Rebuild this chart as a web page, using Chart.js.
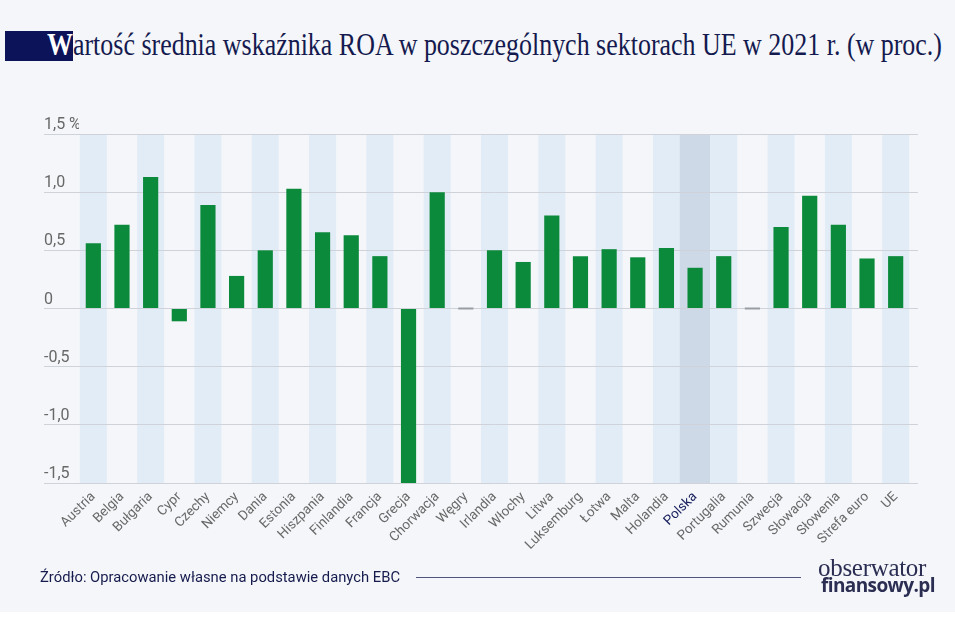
<!DOCTYPE html>
<html lang="pl">
<head>
<meta charset="utf-8">
<script src="https://cdn.jsdelivr.net/npm/chart.js@4.4.1/dist/chart.umd.min.js"></script>
<style>
  html, body { margin: 0; padding: 0; background: #ffffff; }
  #page { position: relative; width: 955px; height: 621px; overflow: hidden; background: #ffffff; }
  #panel { position: absolute; left: 0; top: 0; width: 955px; height: 612px; background: #f4f6f9; }
  #titleBox { position: absolute; left: 5px; top: 31px; width: 68px; height: 30px; background: #0c1358; }
  #title {
    position: absolute; left: 47px; top: 27px; white-space: nowrap;
    font-family: "Liberation Serif", "DejaVu Serif", serif; font-size: 31px; line-height: 36px;
    color: #141a4f; transform-origin: left top;
  }
  #title b { color: #ffffff; }
  #chartWrap { position: absolute; left: 0; top: 100px; width: 955px; height: 470px; }
  #source {
    position: absolute; left: 40px; top: 569px; white-space: nowrap;
    font-family: Roboto, "Liberation Sans", sans-serif; font-size: 14.5px; line-height: 18px;
    color: #161b4e; transform-origin: left top;
  }
  #rule { position: absolute; left: 416px; top: 577px; width: 385px; height: 0; border-top: 1.5px solid #50557e; }
  #logo1 {
    position: absolute; left: 818px; top: 555px; white-space: nowrap;
    font-family: "Liberation Serif", serif; font-size: 25px; line-height: 26px; color: #2b2e52;
    letter-spacing: -0.3px;
  }
  #logo2 {
    position: absolute; left: 821px; top: 575px; white-space: nowrap;
    font-family: "Open Sans", "Liberation Sans", sans-serif; font-weight: 700; font-size: 19px; line-height: 20px;
    color: #2b2e52; letter-spacing: -0.6px;
  }
</style>
</head>
<body>
<div id="page">
  <div id="panel"></div>
  <div id="titleBox"></div>
  <div id="title"><b>W</b>artość średnia wskaźnika ROA w poszczególnych sektorach UE w 2021 r. (w proc.)</div>
  <div id="chartWrap"><canvas id="roaChart"></canvas></div>
  <div id="source">Źródło: Opracowanie własne na podstawie danych EBC</div>
  <div id="rule"></div>
  <div id="logo1">obserwator</div>
  <div id="logo2">finansowy.pl</div>
</div>
<script>
const countries = [
  "Austria", "Belgia", "Bułgaria", "Cypr", "Czechy", "Niemcy", "Dania", "Estonia",
  "Hiszpania", "Finlandia", "Francja", "Grecja", "Chorwacja", "Węgry", "Irlandia",
  "Włochy", "Litwa", "Luksemburg", "Łotwa", "Malta", "Holandia", "Polska",
  "Portugalia", "Rumunia", "Szwecja", "Słowacja", "Słowenia", "Strefa euro", "UE"
];
const roaValues = [
  0.56, 0.72, 1.13, -0.11, 0.89, 0.28, 0.50, 1.03,
  0.655, 0.63, 0.45, -1.5, 1.00, 0.00, 0.50,
  0.40, 0.80, 0.45, 0.51, 0.44, 0.52, 0.35,
  0.45, 0.00, 0.70, 0.97, 0.72, 0.43, 0.45
];
const yTickValues = [-1.5, -1.0, -0.5, 0, 0.5, 1.0, 1.5];
const yTickLabels = ["-1,5", "-1,0", "-0,5", "0", "0,5", "1,0", "1,5 %"];
const highlighted = "Polska";

const green = "#0b8a3b";
const zeroGrey = "#9a9ea4";
const bandLight = "#e2ecf7";
const bandDark = "#cdd9e6";
const labelGrey = "#686868";
const navy = "#1b2160";

// fit the title and source line to the widths seen in the picture
function fitWidth(id, target) {
  const el = document.getElementById(id);
  const w = el.getBoundingClientRect().width;
  el.style.transform = "scaleX(" + (target / w) + ")";
}
fitWidth("title", 895);
fitWidth("source", 360);

// light columns behind every other country, darker one for Polska
const bandsPlugin = {
  id: "bands",
  beforeDraw(chart) {
    const ctx = chart.ctx;
    const x = chart.scales.x;
    const area = chart.chartArea;
    const step = x.getPixelForValue(1) - x.getPixelForValue(0);
    ctx.save();
    countries.forEach((c, i) => {
      const cx = x.getPixelForValue(i);
      if (c === highlighted) {
        ctx.fillStyle = bandDark;
        ctx.fillRect(cx - step / 2 - 1, area.top, step + 2, area.bottom - area.top);
      } else if (i % 2 === 0) {
        ctx.fillStyle = bandLight;
        ctx.fillRect(cx - step * 0.47, area.top, step * 0.94, area.bottom - area.top);
      }
    });
    ctx.restore();
  }
};

new Chart("roaChart", {
  type: "bar",
  data: {
    labels: countries,
    datasets: [
      {
        data: roaValues,
        backgroundColor: (ctx) => (roaValues[ctx.dataIndex] === 0 ? zeroGrey : green),
        categoryPercentage: 1,
        barPercentage: 0.53,
        minBarLength: 2,
      },
    ],
  },
  options: {
    responsive: true,
    maintainAspectRatio: false,
    animation: false,
    layout: { padding: { left: 44, right: 37, top: 34, bottom: 0 } },
    plugins: { legend: { display: false }, tooltip: { enabled: false } },
    scales: {
      x: {
        grid: { display: false, drawTicks: false },
        border: { display: false },
        ticks: {
          autoSkip: false,
          minRotation: 45,
          maxRotation: 45,
          padding: 6,
          color: (ctx) => (countries[ctx.index] === highlighted ? navy : labelGrey),
          font: { family: "Roboto", size: 13.5 },
        },
        afterFit(scale) { scale.height = 87; },
      },
      y: {
        min: -1.5,
        max: 1.5,
        afterBuildTicks(scale) { scale.ticks = yTickValues.map((v) => ({ value: v })); },
        grid: { color: "#cfd3d9", lineWidth: 1, tickLength: 35, drawTicks: true },
        border: { display: false },
        ticks: {
          crossAlign: "far",
          labelOffset: -9,
          color: labelGrey,
          font: { family: "Roboto", size: 16 },
          callback: (v, i) => yTickLabels[i],
        },
        afterFit(scale) { scale.width = 35; },
      },
      y2: {
        position: "right",
        min: -1.5,
        max: 1.5,
        afterBuildTicks(scale) { scale.ticks = yTickValues.map((v) => ({ value: v })); },
        grid: { color: "#cfd3d9", drawOnChartArea: false, drawTicks: true, tickLength: 8 },
        border: { display: false },
        ticks: { display: false },
        afterFit(scale) { scale.width = 8; },
      },
    },
  },
  plugins: [bandsPlugin],
});
</script>
</body>
</html>
